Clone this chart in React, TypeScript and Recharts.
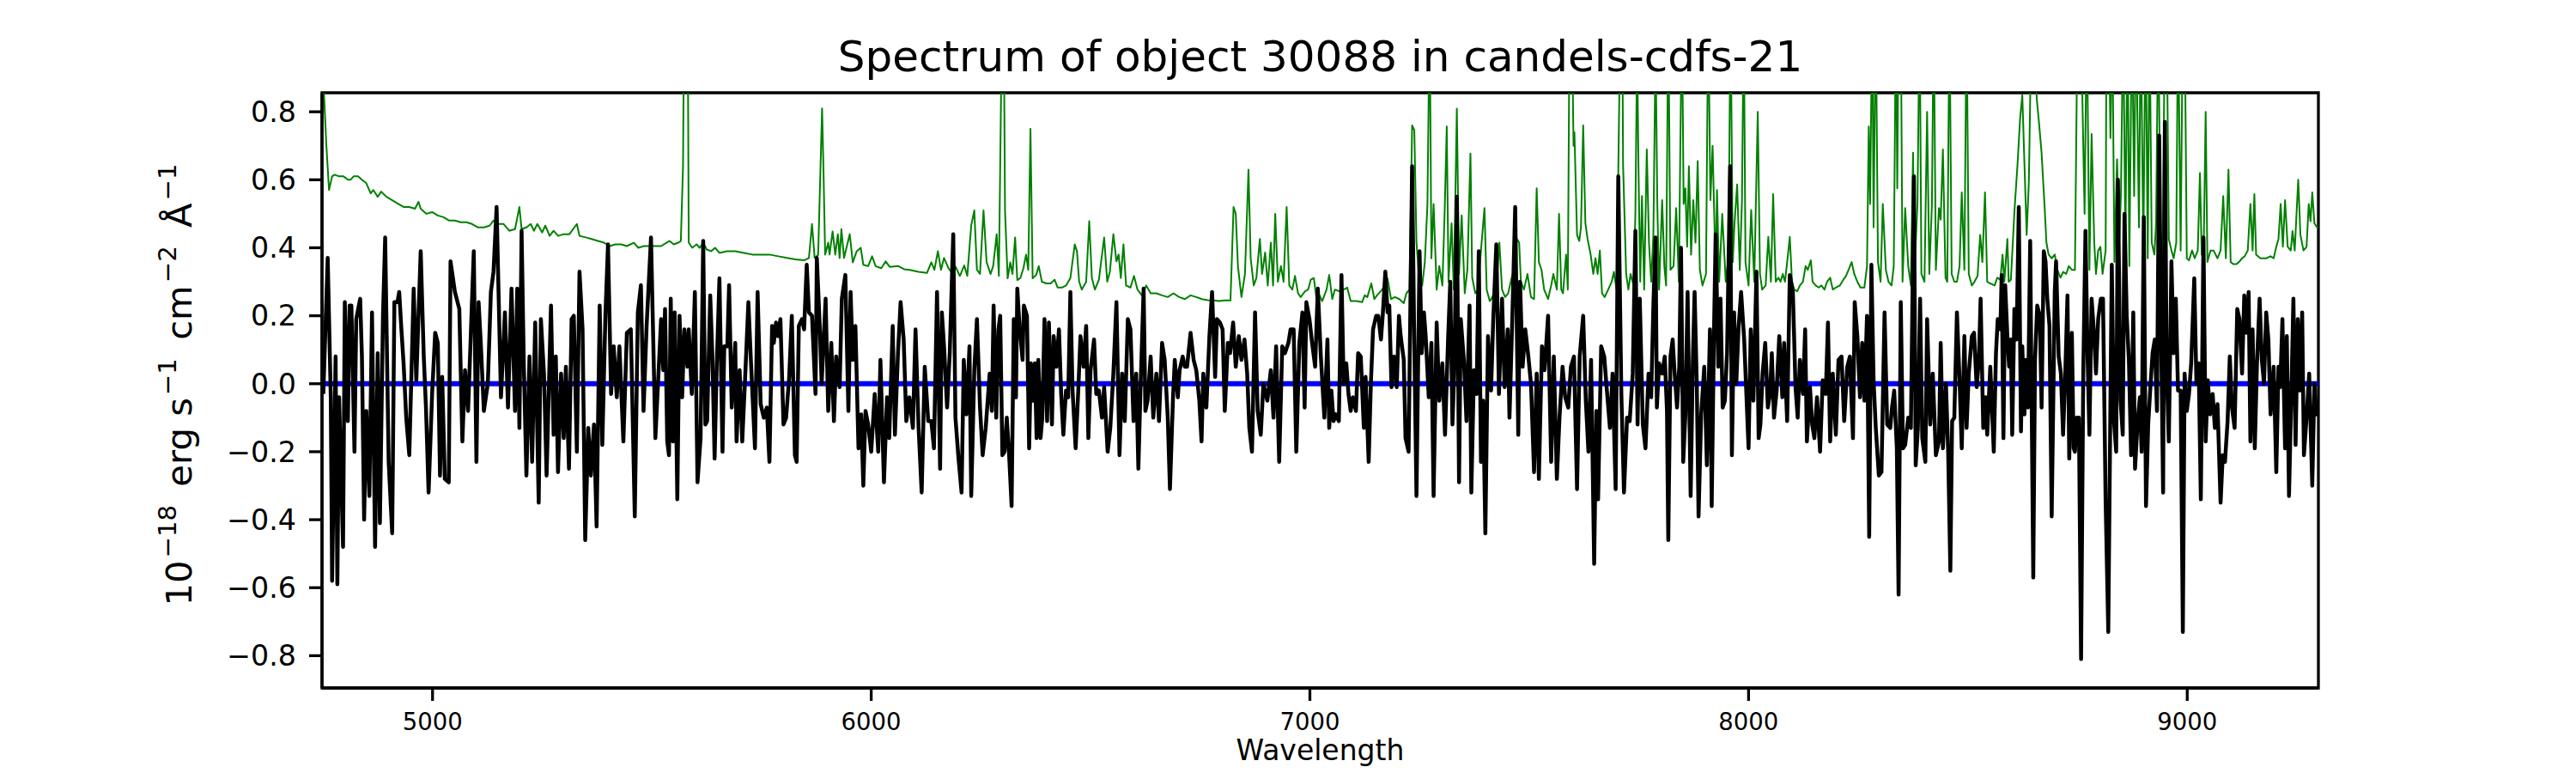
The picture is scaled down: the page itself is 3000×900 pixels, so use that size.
import React from 'react';
import { LineChart, Line, XAxis, YAxis, ReferenceArea } from 'recharts';

const FONT = '"DejaVu Sans", Verdana, sans-serif';

const TITLE = 'Spectrum of object 30088 in candels-cdfs-21';
const X_LABEL = 'Wavelength';
const X_TICKS = [5000, 6000, 7000, 8000, 9000];
const Y_TICKS = [-0.8, -0.6, -0.4, -0.2, 0, 0.2, 0.4, 0.6, 0.8];
const X_DOMAIN = [4748, 9299];
const Y_DOMAIN = [-0.895, 0.856];

const FLUX = [
  [4751, -0.03], [4761, 0.37], [4768, -0.04], [4771, -0.58], [4779, 0.08], [4783, -0.59], [4787, -0.04], [4796, -0.48],
  [4800, 0.24], [4807, -0.11], [4811, 0.23], [4815, 0.23], [4822, -0.2], [4826, 0.19], [4835, 0.25], [4839, 0.08],
  [4844, -0.4], [4849, -0.08], [4856, -0.33], [4862, 0.21], [4869, -0.48], [4875, 0.09], [4880, -0.41], [4887, 0.2],
  [4892, 0.43], [4900, -0.23], [4908, -0.44], [4913, 0.24], [4920, 0.24], [4924, 0.27], [4929, 0.16], [4934, 0.06],
  [4940, -0.1], [4947, -0.21], [4957, 0.28], [4963, 0.01], [4973, 0.39], [4980, 0.08], [4985, -0.07], [4991, -0.32],
  [4999, -0.03], [5006, 0.15], [5012, 0.12], [5017, -0.27], [5022, 0.02], [5028, -0.28], [5037, -0.29], [5041, 0.36],
  [5051, 0.27], [5061, 0.22], [5068, -0.17], [5074, 0.04], [5081, -0.08], [5094, 0.39], [5100, -0.23], [5105, 0.24],
  [5110, 0.12], [5117, -0.08], [5126, 0.0], [5133, 0.27], [5139, 0.33], [5146, 0.52], [5156, -0.04], [5165, 0.21],
  [5172, -0.07], [5180, 0.28], [5188, -0.08], [5193, 0.28], [5198, -0.13], [5203, 0.45], [5208, 0.06], [5214, -0.27],
  [5221, 0.08], [5227, -0.23], [5234, 0.18], [5242, -0.35], [5247, 0.19], [5254, 0.03], [5260, -0.27], [5270, 0.23],
  [5276, -0.15], [5281, 0.08], [5286, -0.26], [5293, 0.03], [5299, -0.16], [5304, 0.05], [5311, -0.25], [5317, 0.19],
  [5322, 0.2], [5329, -0.2], [5335, 0.33], [5342, 0.16], [5348, -0.46], [5355, -0.13], [5361, -0.27], [5368, -0.12],
  [5374, -0.42], [5381, 0.23], [5387, -0.18], [5394, 0.2], [5400, 0.41], [5407, -0.03], [5413, 0.11], [5420, -0.04],
  [5426, 0.11], [5435, -0.17], [5443, 0.15], [5452, 0.16], [5461, -0.39], [5468, 0.21], [5475, 0.29], [5481, -0.08],
  [5488, 0.17], [5498, 0.43], [5508, -0.16],
  [5521, 0.19], [5526, 0.04], [5530, 0.22], [5535, -0.17], [5539, -0.21], [5543, 0.25], [5548, -0.17], [5552, 0.21],
  [5558, -0.34], [5563, 0.2], [5569, -0.04], [5574, 0.16], [5581, 0.05], [5584, 0.16], [5591, -0.03], [5598, 0.27],
  [5604, -0.29], [5611, -0.16], [5617, 0.42], [5622, -0.12], [5626, -0.11], [5633, 0.26], [5638, 0.08], [5643, -0.22],
  [5648, 0.06], [5654, 0.31], [5661, -0.2], [5665, 0.11], [5672, 0.11], [5676, 0.29], [5682, -0.07], [5690, 0.12],
  [5693, -0.17], [5700, 0.04], [5706, -0.17], [5713, 0.03], [5720, 0.24], [5726, 0.06], [5735, -0.19], [5741, 0.27],
  [5748, -0.06], [5755, -0.1], [5762, -0.07], [5768, -0.23], [5774, 0.17], [5778, 0.12], [5783, 0.18], [5788, 0.14],
  [5793, 0.19], [5800, -0.12], [5806, -0.1], [5813, 0.02], [5819, 0.2], [5826, -0.21], [5830, -0.23], [5835, 0.17],
  [5842, 0.19], [5847, 0.16], [5853, 0.35], [5858, 0.21], [5865, 0.2], [5873, -0.03], [5876, 0.37], [5883, 0.16],
  [5887, 0.0], [5896, 0.25], [5902, -0.08], [5909, 0.12], [5915, -0.11], [5920, 0.08], [5928, -0.01], [5933, 0.25],
  [5941, 0.32], [5948, -0.08], [5953, 0.27], [5958, 0.07], [5964, 0.17], [5971, -0.19], [5977, -0.09], [5982, -0.3],
  [5987, -0.08], [5993, -0.12], [6000, -0.2], [6008, -0.03], [6016, -0.2], [6021, 0.07], [6029, -0.29], [6036, -0.04],
  [6041, -0.16], [6049, 0.17], [6054, -0.15], [6061, 0.09], [6067, 0.24], [6074, 0.13], [6080, -0.11], [6087, -0.04],
  [6095, -0.13], [6101, 0.16], [6108, -0.13], [6115, -0.32], [6122, 0.05], [6130, -0.11], [6137, -0.11], [6143, -0.19],
  [6150, 0.27], [6157, -0.25], [6161, 0.21], [6166, 0.11], [6173, -0.07], [6179, 0.09], [6187, 0.44], [6192, -0.1],
  [6199, -0.22], [6206, -0.32], [6211, 0.07], [6217, -0.09], [6224, 0.11], [6228, -0.33], [6235, 0.04], [6241, 0.19],
  [6248, -0.07], [6254, -0.21], [6261, -0.13],
  [6270, 0.03], [6275, -0.08], [6279, 0.23], [6285, -0.1], [6290, 0.16], [6294, 0.2], [6299, -0.21], [6304, -0.2],
  [6309, -0.1], [6314, -0.2], [6320, -0.36], [6325, 0.19], [6330, -0.04], [6333, 0.28], [6338, 0.17], [6345, 0.07],
  [6348, 0.23], [6355, 0.2], [6360, -0.19], [6364, 0.06], [6368, -0.05], [6373, 0.06], [6377, -0.16], [6381, 0.07],
  [6386, -0.16], [6390, -0.1], [6395, 0.19], [6401, -0.11], [6405, 0.18], [6412, -0.12], [6416, 0.14], [6422, 0.05],
  [6428, 0.16], [6433, -0.03], [6438, -0.15], [6444, -0.02], [6449, -0.04], [6454, 0.27], [6459, -0.02], [6466, -0.19],
  [6472, -0.02], [6477, 0.14], [6484, 0.05], [6490, 0.17], [6495, -0.16], [6500, 0.04], [6508, 0.13], [6513, -0.03],
  [6519, -0.02], [6526, -0.1], [6531, -0.01], [6539, -0.2], [6545, -0.13], [6552, 0.03], [6559, 0.24], [6566, -0.21],
  [6572, 0.03], [6578, -0.11], [6585, 0.19], [6591, 0.16], [6598, -0.11], [6604, 0.03], [6609, -0.25], [6614, -0.01],
  [6621, 0.28], [6625, -0.08], [6630, -0.05], [6637, 0.08], [6643, -0.1], [6650, 0.03], [6656, -0.11], [6663, 0.12],
  [6669, 0.07], [6676, -0.1], [6681, -0.31], [6688, -0.04], [6692, 0.07], [6699, -0.04], [6703, 0.04], [6710, 0.08],
  [6715, 0.05], [6720, 0.05], [6728, 0.15], [6735, 0.07], [6741, 0.04], [6748, -0.05], [6753, -0.17], [6757, 0.03],
  [6764, -0.07], [6771, 0.14], [6777, 0.27], [6784, 0.02], [6788, 0.19], [6795, 0.18], [6801, 0.16], [6806, -0.08],
  [6813, 0.12], [6818, 0.09], [6825, 0.18], [6831, 0.05], [6838, 0.14], [6844, 0.07], [6851, 0.13], [6857, 0.03],
  [6862, -0.13], [6868, -0.2], [6875, 0.21], [6881, -0.08], [6888, -0.15], [6894, 0.0], [6903, -0.05], [6911, 0.04],
  [6917, -0.1], [6923, 0.11], [6930, -0.23], [6937, 0.11], [6943, 0.09], [6951, 0.12], [6956, 0.16], [6963, 0.16],
  [6969, -0.2], [6976, 0.12], [6983, 0.21], [6988, -0.07], [6992, 0.24], [6999, 0.19], [7005, 0.12], [7012, 0.05],
  [7018, 0.28], [7025, 0.08],
  [7033, -0.1], [7040, 0.13], [7044, -0.13], [7049, -0.02], [7054, -0.11], [7059, -0.09], [7066, -0.11], [7072, 0.32],
  [7077, 0.0], [7083, 0.06], [7088, -0.03], [7093, -0.08], [7098, -0.04], [7105, -0.08], [7110, 0.09], [7116, 0.08],
  [7123, -0.13], [7127, 0.02], [7134, -0.23], [7139, 0.0], [7144, 0.16], [7151, 0.2], [7156, 0.2], [7162, 0.13],
  [7166, 0.2], [7172, 0.33], [7177, 0.21], [7181, 0.23], [7186, -0.01], [7192, 0.08], [7198, -0.01], [7203, 0.2],
  [7207, 0.14], [7214, 0.07], [7218, -0.16], [7225, -0.2], [7233, 0.64], [7238, 0.12], [7243, -0.33], [7250, 0.39],
  [7255, 0.09], [7260, 0.21], [7264, 0.14], [7271, -0.04], [7277, 0.12], [7282, -0.33], [7289, 0.18], [7295, -0.05],
  [7302, 0.06], [7308, -0.15], [7315, 0.13], [7320, 0.3], [7325, -0.12], [7329, 0.03], [7335, 0.55], [7340, -0.29],
  [7344, 0.19], [7351, 0.07], [7357, -0.11], [7364, 0.23], [7368, -0.32], [7374, 0.04], [7380, -0.03], [7385, 0.39],
  [7390, -0.23], [7395, -0.05], [7400, -0.44], [7406, 0.14], [7413, -0.02], [7418, 0.19], [7425, 0.41], [7431, -0.03],
  [7438, 0.25], [7444, -0.01], [7451, 0.16], [7455, -0.1], [7462, 0.22], [7468, 0.52], [7475, -0.15], [7479, 0.3],
  [7485, 0.05], [7491, 0.16], [7498, 0.08], [7504, 0.0], [7511, -0.26], [7517, 0.03], [7522, -0.28], [7529, 0.11],
  [7535, 0.04], [7543, 0.2], [7550, -0.23], [7556, 0.08], [7563, -0.28], [7569, -0.1], [7576, 0.05], [7582, -0.04],
  [7589, -0.07], [7595, 0.05], [7602, 0.08], [7609, -0.31], [7615, 0.08], [7623, 0.2], [7629, -0.05], [7635, -0.2],
  [7641, 0.07], [7648, -0.53], [7653, -0.08], [7657, -0.34], [7664, 0.11], [7671, 0.08], [7677, -0.02], [7684, -0.13],
  [7690, 0.03], [7697, -0.31], [7703, 0.61], [7710, -0.03], [7716, -0.32], [7723, -0.1], [7729, -0.11], [7736, 0.03],
  [7742, 0.45], [7747, -0.12], [7752, 0.25], [7759, -0.12], [7765, -0.19], [7772, 0.03], [7778, -0.04], [7783, 0.23],
  [7788, 0.43],
  [7791, -0.07], [7796, 0.06], [7803, 0.03], [7809, 0.08], [7814, -0.08], [7817, -0.46], [7822, 0.08], [7827, 0.13],
  [7831, 0.04], [7837, -0.07], [7842, 0.05], [7846, 0.4], [7851, -0.23], [7856, -0.09], [7861, 0.27], [7868, -0.33],
  [7873, 0.07], [7877, 0.27], [7882, 0.0], [7886, -0.39], [7892, -0.09], [7899, 0.05], [7905, -0.24], [7912, 0.16],
  [7916, -0.36], [7921, 0.14], [7925, 0.44], [7931, 0.05], [7936, 0.25], [7941, -0.07], [7946, -0.05], [7951, 0.09],
  [7958, 0.64], [7962, -0.21], [7967, 0.21], [7972, 0.0], [7977, 0.16], [7983, 0.27], [7990, 0.13], [7995, -0.03],
  [8000, -0.19], [8005, 0.16], [8011, -0.05], [8018, 0.33], [8023, -0.16], [8027, -0.12], [8032, 0.03], [8038, 0.12],
  [8044, -0.07], [8049, -0.03], [8053, 0.09], [8058, -0.1], [8064, -0.02], [8070, 0.14], [8077, -0.04], [8081, 0.12],
  [8088, -0.11], [8094, 0.32], [8101, 0.27], [8107, -0.01], [8112, -0.1], [8117, 0.07], [8124, -0.03], [8129, 0.16],
  [8133, -0.17], [8140, -0.01], [8145, -0.12], [8150, -0.16], [8156, -0.04], [8163, -0.2], [8169, 0.01], [8176, -0.03],
  [8181, 0.18], [8186, -0.17], [8192, 0.03], [8199, -0.15], [8205, 0.07], [8212, 0.08], [8218, -0.11], [8225, 0.05],
  [8231, 0.08], [8238, -0.16], [8242, 0.24], [8248, 0.14], [8254, -0.04], [8259, 0.12], [8264, -0.05], [8270, 0.2],
  [8275, -0.45], [8280, 0.35], [8285, 0.01], [8290, -0.13], [8297, -0.27], [8303, -0.26], [8310, 0.21], [8316, -0.12],
  [8323, -0.13], [8327, -0.07], [8332, -0.02], [8338, -0.19], [8342, -0.62], [8347, 0.24], [8352, -0.19], [8357, -0.18],
  [8364, -0.1], [8370, -0.13], [8377, 0.61], [8381, -0.24], [8386, -0.13], [8391, 0.25], [8396, -0.16], [8403, -0.23],
  [8407, 0.19], [8414, -0.12], [8420, 0.03], [8427, -0.21], [8434, -0.17], [8438, 0.12], [8443, -0.19], [8450, 0.0],
  [8455, -0.2], [8460, -0.55], [8464, -0.11], [8469, -0.1], [8475, 0.21], [8481, 0.01], [8486, -0.19], [8492, 0.14],
  [8497, -0.13], [8502, 0.03], [8509, 0.14], [8514, 0.15], [8520, -0.01], [8525, 0.07], [8529, 0.25], [8535, -0.13],
  [8540, -0.04], [8544, -0.15], [8551, 0.05],
  [8559, -0.2], [8564, 0.09], [8568, 0.19], [8574, 0.16], [8577, 0.32], [8581, -0.16], [8585, 0.29], [8590, 0.14],
  [8594, 0.05], [8598, 0.13], [8601, -0.15], [8606, 0.22], [8611, 0.13], [8616, 0.52], [8621, -0.14], [8624, 0.11],
  [8629, -0.09], [8632, 0.07], [8637, -0.07], [8642, 0.42], [8649, -0.57], [8653, 0.07], [8658, 0.23], [8664, 0.2],
  [8668, -0.07], [8673, 0.39], [8677, 0.36], [8681, 0.25], [8686, 0.17], [8691, -0.39], [8698, 0.27], [8701, 0.36],
  [8707, 0.08], [8712, 0.03], [8717, -0.15], [8722, 0.03], [8727, 0.26], [8731, -0.22], [8737, 0.15], [8741, -0.19],
  [8744, -0.2], [8748, -0.1], [8753, -0.1], [8758, -0.81], [8763, 0.03], [8768, 0.45], [8773, 0.07], [8777, -0.15],
  [8782, 0.25], [8788, 0.14], [8792, 0.03], [8797, 0.19], [8803, 0.25], [8808, 0.25], [8814, -0.35], [8820, -0.73],
  [8825, -0.04], [8828, 0.35], [8833, -0.11], [8838, -0.2], [8842, 0.6], [8848, -0.05], [8853, -0.15], [8857, 0.5],
  [8862, 0.2], [8867, 0.07], [8872, -0.21], [8877, 0.21], [8881, -0.25], [8887, -0.11], [8892, -0.04], [8896, -0.2],
  [8901, 0.49], [8906, -0.36], [8911, -0.12], [8916, -0.01], [8921, 0.09], [8926, 0.13], [8931, -0.08], [8936, 0.73],
  [8940, 0.19], [8945, -0.32], [8949, 0.77], [8953, 0.05], [8958, -0.17], [8964, 0.36], [8969, 0.09], [8974, 0.25],
  [8979, -0.02], [8985, -0.02], [8990, -0.73], [8994, 0.03], [8999, -0.08], [9004, -0.03], [9009, 0.06], [9016, 0.31],
  [9021, 0.0], [9026, 0.06], [9031, -0.34], [9037, 0.43], [9042, -0.17], [9047, 0.01], [9052, -0.09], [9058, -0.03],
  [9063, -0.13], [9069, -0.06], [9076, -0.35], [9081, -0.21], [9086, -0.23], [9092, -0.11], [9097, 0.08], [9102, -0.07],
  [9108, -0.13], [9114, 0.22], [9119, 0.19], [9125, 0.03], [9130, 0.26], [9135, 0.15], [9140, 0.27], [9144, -0.17],
  [9149, 0.16], [9154, -0.19], [9159, 0.06], [9165, 0.25], [9170, 0.07], [9175, 0.0], [9180, 0.21], [9185, 0.13],
  [9190, -0.09], [9197, 0.05], [9203, -0.26], [9208, 0.05], [9212, -0.01], [9217, 0.19], [9223, -0.19], [9227, 0.14],
  [9232, -0.33], [9238, 0.01], [9242, 0.25], [9247, -0.18], [9252, 0.19], [9257, -0.02], [9262, 0.21], [9266, -0.21],
  [9272, -0.1], [9278, 0.03], [9285, -0.3], [9290, 0.0], [9294, -0.09], [9298, -0.05],
];

// noise spectrum (green), [wavelength, value]; values above 0.856 run off the top
const NOISE = [
  [4749, 0.95], [4758, 0.7], [4764, 0.57], [4771, 0.61], [4777, 0.615], [4787, 0.61], [4797, 0.61], [4807, 0.6],
  [4813, 0.6], [4820, 0.61], [4830, 0.61], [4839, 0.6], [4849, 0.59], [4859, 0.56], [4865, 0.57], [4875, 0.55],
  [4883, 0.565], [4895, 0.55], [4908, 0.54], [4921, 0.53], [4934, 0.52], [4947, 0.52], [4960, 0.515], [4968, 0.535],
  [4973, 0.515], [4986, 0.5], [4999, 0.505], [5012, 0.495], [5025, 0.49], [5038, 0.48], [5051, 0.48], [5064, 0.475],
  [5077, 0.475], [5090, 0.47], [5103, 0.46], [5117, 0.46], [5130, 0.465], [5139, 0.48], [5149, 0.47], [5162, 0.47],
  [5175, 0.45], [5188, 0.455], [5195, 0.5], [5198, 0.52], [5203, 0.455], [5214, 0.46], [5224, 0.47], [5231, 0.45],
  [5239, 0.47], [5250, 0.445], [5257, 0.465], [5267, 0.435], [5276, 0.45], [5286, 0.435], [5299, 0.44], [5312, 0.44],
  [5329, 0.47], [5335, 0.435], [5351, 0.43], [5364, 0.425], [5377, 0.42], [5391, 0.415], [5404, 0.405], [5417, 0.41],
  [5430, 0.41], [5443, 0.405], [5459, 0.415], [5469, 0.4], [5482, 0.405], [5495, 0.405], [5514, 0.405],
  [5521, 0.405], [5540, 0.42], [5550, 0.41], [5560, 0.415], [5566, 0.42], [5571, 0.64], [5574, 1.2], [5578, 1.2],
  [5582, 1.0], [5584, 0.415], [5592, 0.4], [5602, 0.41], [5609, 0.4], [5617, 0.415], [5625, 0.395], [5635, 0.39],
  [5644, 0.4], [5654, 0.385], [5671, 0.39], [5690, 0.39], [5710, 0.385], [5729, 0.38], [5749, 0.38], [5768, 0.38],
  [5788, 0.375], [5808, 0.37], [5827, 0.366], [5847, 0.363], [5858, 0.37], [5865, 0.47], [5871, 0.37], [5879, 0.379],
  [5888, 0.81], [5891, 0.64], [5895, 0.38], [5902, 0.415], [5905, 0.38], [5912, 0.448], [5918, 0.38], [5924, 0.44],
  [5928, 0.37], [5932, 0.455], [5938, 0.37], [5951, 0.44], [5958, 0.357], [5967, 0.39], [5976, 0.4], [5982, 0.35],
  [5993, 0.346], [6002, 0.375], [6010, 0.346], [6023, 0.34], [6033, 0.36], [6042, 0.344], [6062, 0.346], [6075, 0.337],
  [6088, 0.335], [6108, 0.329], [6127, 0.326], [6137, 0.357], [6144, 0.335], [6152, 0.39], [6159, 0.335], [6166, 0.37],
  [6176, 0.34], [6186, 0.323], [6192, 0.345], [6202, 0.317], [6212, 0.348], [6219, 0.317], [6228, 0.466], [6235, 0.51],
  [6241, 0.335], [6248, 0.323], [6256, 0.51], [6263, 0.358],
  [6272, 0.323], [6278, 0.346], [6286, 0.44], [6291, 0.317], [6296, 0.85], [6299, 1.2], [6301, 1.2], [6303, 0.9],
  [6305, 0.51], [6311, 0.31], [6317, 0.357], [6322, 0.323], [6328, 0.43], [6333, 0.305], [6340, 0.311], [6347, 0.34],
  [6353, 0.38], [6358, 0.335], [6363, 0.75], [6368, 0.31], [6376, 0.32], [6382, 0.346], [6389, 0.3], [6399, 0.295],
  [6409, 0.295], [6418, 0.306], [6425, 0.283], [6435, 0.283], [6444, 0.289], [6454, 0.311], [6464, 0.41], [6469, 0.39],
  [6474, 0.3], [6480, 0.277], [6490, 0.3], [6497, 0.478], [6503, 0.311], [6510, 0.277], [6519, 0.306], [6531, 0.43],
  [6538, 0.3], [6544, 0.329], [6552, 0.44], [6559, 0.36], [6564, 0.38], [6569, 0.311], [6575, 0.41], [6581, 0.289],
  [6591, 0.283], [6599, 0.317], [6607, 0.277], [6617, 0.26], [6627, 0.289], [6637, 0.266], [6650, 0.266], [6663, 0.26],
  [6676, 0.255], [6689, 0.266], [6702, 0.255], [6715, 0.249], [6728, 0.26], [6741, 0.255], [6754, 0.249], [6767, 0.246],
  [6780, 0.245], [6793, 0.243], [6806, 0.245], [6819, 0.245], [6826, 0.52], [6831, 0.5], [6836, 0.346], [6839, 0.311],
  [6844, 0.255], [6852, 0.323], [6860, 0.63], [6865, 0.369], [6872, 0.289], [6878, 0.311], [6886, 0.426], [6891, 0.323],
  [6898, 0.386], [6904, 0.289], [6911, 0.415], [6916, 0.289], [6921, 0.5], [6927, 0.3], [6934, 0.346], [6940, 0.3],
  [6947, 0.52], [6953, 0.289], [6960, 0.277], [6966, 0.317], [6973, 0.266], [6979, 0.255], [6989, 0.272], [6996, 0.277],
  [7002, 0.306], [7009, 0.311], [7015, 0.249], [7022, 0.26],
  [7028, 0.243], [7038, 0.277], [7044, 0.32], [7051, 0.249], [7057, 0.277], [7067, 0.272], [7077, 0.277], [7085, 0.283],
  [7093, 0.243], [7106, 0.243], [7119, 0.24], [7125, 0.26], [7131, 0.255], [7140, 0.295], [7147, 0.249], [7153, 0.26],
  [7165, 0.277], [7177, 0.31], [7185, 0.249], [7194, 0.255], [7204, 0.249], [7214, 0.237], [7220, 0.266], [7227, 0.277],
  [7233, 0.76], [7238, 0.746], [7243, 0.415], [7250, 0.289], [7256, 0.289], [7262, 0.357], [7268, 0.529], [7273, 1.1],
  [7277, 0.369], [7282, 0.529], [7289, 0.277], [7295, 0.346], [7302, 0.289], [7307, 0.495], [7312, 0.757], [7316, 0.3],
  [7323, 0.472], [7328, 0.277], [7335, 0.809], [7340, 0.323], [7346, 0.495], [7353, 0.266], [7359, 0.335], [7366, 0.677],
  [7370, 0.312], [7377, 0.266], [7383, 0.277], [7390, 0.392], [7398, 0.517], [7403, 0.277], [7410, 0.243], [7416, 0.255],
  [7423, 0.277], [7427, 0.323], [7432, 0.415], [7438, 0.277], [7445, 0.255], [7452, 0.266], [7460, 0.312], [7466, 0.335],
  [7472, 0.426], [7477, 0.415], [7481, 0.3], [7488, 0.277], [7496, 0.323], [7504, 0.255], [7511, 0.249], [7517, 0.575],
  [7522, 0.358], [7528, 0.335], [7534, 0.277], [7543, 0.249], [7550, 0.289], [7555, 0.323], [7563, 0.277], [7568, 0.5],
  [7573, 0.277], [7577, 0.266], [7584, 0.38], [7588, 0.277], [7592, 1.1], [7597, 1.1], [7601, 0.7], [7603, 0.74],
  [7609, 0.438], [7614, 0.42], [7618, 0.46], [7623, 0.76], [7628, 0.472], [7633, 0.426], [7640, 0.38], [7646, 0.323],
  [7651, 0.369], [7656, 0.323], [7661, 0.392], [7666, 0.266], [7672, 0.255], [7680, 0.277], [7688, 0.3], [7693, 0.329],
  [7699, 0.277], [7703, 0.62], [7708, 1.1], [7712, 1.1], [7714, 0.64], [7721, 0.323], [7726, 0.277], [7731, 0.323],
  [7738, 0.289], [7742, 0.5], [7746, 1.0], [7749, 0.64], [7753, 0.3], [7757, 0.552], [7762, 0.277], [7768, 0.689],
  [7773, 0.415], [7778, 0.3], [7783, 0.438], [7788, 1.0], [7792, 0.529], [7796, 0.277],
  [7803, 0.54], [7808, 0.346], [7812, 0.289], [7817, 1.1], [7822, 0.335], [7829, 0.346], [7835, 0.517], [7841, 0.3],
  [7848, 1.1], [7852, 0.529], [7856, 0.575], [7860, 0.403], [7864, 0.64], [7869, 0.38], [7874, 0.54], [7879, 0.415],
  [7884, 0.655], [7889, 0.335], [7895, 0.289], [7903, 0.323], [7908, 1.1], [7913, 0.54], [7918, 0.7], [7925, 0.323],
  [7928, 0.57], [7933, 0.3], [7940, 0.5], [7948, 0.3], [7954, 0.369], [7959, 1.1], [7964, 0.358], [7968, 0.472],
  [7974, 0.586], [7980, 0.335], [7985, 0.54], [7989, 1.1], [7993, 0.358], [8000, 0.289], [8006, 0.511], [8013, 0.3],
  [8021, 0.8], [8026, 0.323], [8031, 0.277], [8039, 0.289], [8045, 0.432], [8051, 0.3], [8056, 0.558], [8062, 0.3],
  [8068, 0.312], [8073, 0.3], [8078, 0.323], [8083, 0.3], [8088, 0.358], [8094, 0.432], [8099, 0.3], [8104, 0.277],
  [8111, 0.272], [8117, 0.289], [8124, 0.3], [8130, 0.346], [8135, 0.335], [8142, 0.363], [8146, 0.3], [8153, 0.289],
  [8160, 0.283], [8166, 0.289], [8173, 0.277], [8179, 0.3], [8186, 0.312], [8192, 0.277], [8199, 0.283], [8208, 0.289],
  [8216, 0.306], [8222, 0.317], [8228, 0.335], [8235, 0.358], [8241, 0.323], [8248, 0.3], [8255, 0.283], [8264, 0.283],
  [8270, 0.346], [8274, 0.757], [8277, 0.529], [8282, 1.1], [8285, 0.46], [8290, 1.1], [8295, 0.358], [8301, 0.3],
  [8306, 0.529], [8313, 0.335], [8319, 0.3], [8326, 0.289], [8331, 0.346], [8336, 1.1], [8339, 0.575], [8342, 1.1],
  [8347, 1.1], [8351, 0.3], [8357, 0.517], [8364, 0.346], [8370, 0.289], [8375, 0.68], [8378, 0.323], [8385, 0.529],
  [8390, 1.1], [8394, 0.323], [8401, 0.3], [8407, 0.8], [8412, 0.323], [8418, 0.529], [8422, 1.1], [8427, 0.335],
  [8434, 0.517], [8438, 0.483], [8443, 0.689], [8449, 0.312], [8453, 0.3], [8458, 1.1], [8463, 0.323], [8469, 0.3],
  [8475, 0.3], [8481, 0.346], [8486, 0.563], [8492, 0.335], [8497, 1.1], [8502, 0.323], [8509, 0.289], [8515, 0.3],
  [8522, 0.317], [8528, 0.438], [8533, 0.358], [8539, 0.563], [8544, 0.3], [8551, 0.295],
  [8561, 0.289], [8567, 0.312], [8574, 0.306], [8579, 0.38], [8583, 0.3], [8590, 0.426], [8593, 0.3], [8598, 0.306],
  [8606, 0.506], [8613, 0.643], [8619, 0.78], [8624, 0.849], [8629, 0.643], [8634, 0.438], [8639, 0.597], [8644, 1.0],
  [8651, 1.0], [8657, 0.838], [8662, 0.769], [8668, 0.678], [8675, 0.517], [8679, 0.415], [8684, 0.38], [8691, 0.369],
  [8698, 0.38], [8704, 0.335], [8711, 0.312], [8717, 0.329], [8724, 0.323], [8730, 0.346], [8737, 0.335], [8744, 0.335],
  [8750, 1.1], [8755, 1.1], [8761, 0.838], [8766, 0.5], [8771, 1.1], [8777, 0.335], [8782, 0.735], [8788, 0.415],
  [8792, 0.323], [8797, 0.392], [8802, 0.403], [8807, 0.323], [8814, 0.392], [8816, 1.1], [8821, 1.1], [8825, 0.723],
  [8829, 1.1], [8834, 0.358], [8840, 0.66], [8845, 0.415], [8849, 0.563], [8854, 1.1], [8859, 0.403], [8864, 1.1],
  [8868, 0.346], [8874, 1.1], [8879, 0.552], [8883, 1.1], [8890, 0.46], [8894, 1.1], [8900, 0.392], [8905, 1.1],
  [8910, 0.369], [8914, 1.1], [8919, 0.415], [8925, 0.38], [8929, 0.472], [8934, 1.1], [8939, 0.438], [8944, 0.346],
  [8949, 1.1], [8953, 1.1], [8958, 0.426], [8964, 0.392], [8969, 0.369], [8975, 0.415], [8979, 1.1], [8985, 0.392],
  [8990, 1.1], [8994, 1.1], [8999, 0.369], [9004, 0.363], [9011, 0.392], [9017, 0.369], [9024, 0.392], [9029, 0.62],
  [9033, 0.38], [9038, 0.438], [9042, 0.8], [9046, 0.358], [9053, 0.392], [9060, 0.392], [9069, 0.369], [9076, 0.392],
  [9082, 0.552], [9088, 0.369], [9094, 0.63], [9099, 0.358], [9105, 0.352], [9112, 0.352], [9118, 0.358], [9125, 0.369],
  [9131, 0.375], [9138, 0.392], [9144, 0.529], [9149, 0.392], [9153, 0.558], [9157, 0.38], [9167, 0.369], [9180, 0.369],
  [9190, 0.375], [9197, 0.369], [9203, 0.403], [9208, 0.426], [9213, 0.529], [9218, 0.403], [9223, 0.54], [9229, 0.403],
  [9236, 0.392], [9240, 0.449], [9245, 0.392], [9253, 0.6], [9258, 0.438], [9265, 0.392], [9272, 0.403], [9277, 0.529],
  [9281, 0.478], [9285, 0.563], [9290, 0.472], [9296, 0.46], [9300, 0.46],
];

// model (blue)
const MODEL = [[4750, 0], [9300, 0]];

const toRows = (pts: number[][]) => pts.map(([w, v]) => ({ w, v }));
const fluxRows = toRows(FLUX);
const noiseRows = toRows(NOISE);
const modelRows = toRows(MODEL);

const fmtY = (v: number) => {
  const s = Math.abs(v).toFixed(1);
  return v < -1e-9 ? `\u2212${s}` : s;
};

const frame = { stroke: '#000', strokeWidth: 3.3 };

const TitleText = () => (
  <text x={1537.5} y={83} textAnchor="middle" fontFamily={FONT} fontSize={50} fill="#000">
    {TITLE}
  </text>
);

const XLabelText = () => (
  <text x={1537.5} y={885} textAnchor="middle" fontFamily={FONT} fontSize={33} fill="#000">
    {X_LABEL}
  </text>
);

const SUP = { fontSize: 29.2 };

// mathtext-like unit label; dx adds the wider gaps mathtext leaves
const YLabelText = () => (
  <text
    transform="translate(223, 448) rotate(-90)"
    textAnchor="middle"
    fontFamily={FONT}
    fontSize={41.7}
    fill="#000"
  >
    <tspan>10</tspan>
    <tspan dy={-18} dx={3} {...SUP}>{'\u2212'}18</tspan>
    <tspan dy={18} dx={8}>{' erg s'}</tspan>
    <tspan dy={-18} dx={3} {...SUP}>{'\u2212'}1</tspan>
    <tspan dy={18} dx={8}>{' cm'}</tspan>
    <tspan dy={-18} dx={3} {...SUP}>{'\u2212'}2</tspan>
    <tspan dy={18} dx={8}>{' \u00c5'}</tspan>
    <tspan dy={-18} dx={3} {...SUP}>{'\u2212'}1</tspan>
  </text>
);

export default function App() {
  return (
    <div style={{ position: 'absolute', left: 0, top: 0, width: 3000, height: 900, background: '#fff' }}>
      <LineChart width={3000} height={900} margin={{ top: 108, right: 300, bottom: 39, left: 275 }}>
        <XAxis
          xAxisId="bottom"
          type="number"
          dataKey="w"
          domain={X_DOMAIN}
          allowDataOverflow
          ticks={X_TICKS}
          interval={0}
          height={60}
          tickSize={15}
          tickMargin={14}
          axisLine={frame}
          tickLine={frame}
          tick={{ fontSize: 27.5, fill: '#000', fontFamily: FONT }}
          label={{ content: () => <XLabelText /> }}
        />
        <YAxis
          yAxisId="left"
          type="number"
          domain={Y_DOMAIN}
          allowDataOverflow
          ticks={Y_TICKS}
          interval={0}
          width={100}
          tickSize={15}
          tickMargin={15}
          axisLine={frame}
          tickLine={frame}
          tickFormatter={fmtY}
          tick={{ fontSize: 33.3, fill: '#000', fontFamily: FONT }}
          label={{ content: () => <YLabelText /> }}
        />
        <Line
          xAxisId="bottom"
          yAxisId="left"
          data={noiseRows}
          dataKey="v"
          stroke="#008000"
          strokeWidth={2}
          strokeLinejoin="round"
          dot={false}
          activeDot={false}
          isAnimationActive={false}
        />
        <Line
          xAxisId="bottom"
          yAxisId="left"
          data={modelRows}
          dataKey="v"
          stroke="#0000ff"
          strokeWidth={6}
          dot={false}
          activeDot={false}
          isAnimationActive={false}
        />
        <Line
          xAxisId="bottom"
          yAxisId="left"
          data={fluxRows}
          dataKey="v"
          stroke="#000"
          strokeWidth={4.5}
          strokeLinejoin="round"
          dot={false}
          activeDot={false}
          isAnimationActive={false}
        />
        {/* axes box, with the title hung on it */}
        <ReferenceArea
          xAxisId="bottom"
          yAxisId="left"
          x1={X_DOMAIN[0]}
          x2={X_DOMAIN[1]}
          y1={Y_DOMAIN[0]}
          y2={Y_DOMAIN[1]}
          ifOverflow="visible"
          fill="none"
          fillOpacity={0}
          stroke="#000"
          strokeWidth={3.3}
          label={{ content: () => <TitleText /> }}
        />
      </LineChart>
    </div>
  );
}
